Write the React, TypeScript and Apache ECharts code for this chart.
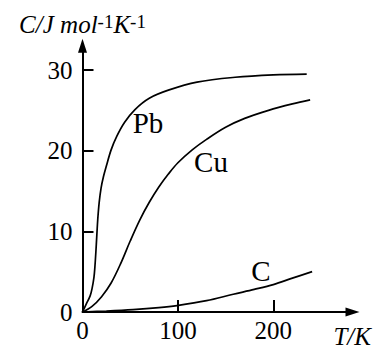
import React, { useEffect, useRef } from 'react';
import * as echarts from 'echarts';

// Heat capacity curves C (J mol^-1 K^-1) versus temperature T (K)
const pbT = [0, 4, 8, 10, 12, 13, 14, 15, 16, 17.5, 19.5, 22, 25, 30, 36, 44, 55, 70, 90, 120, 160, 200, 235];
const pbC = [0, 1.0, 2.0, 2.9, 4.3, 5.6, 7.4, 9.5, 11.5, 13.6, 15.4, 16.8, 18.1, 20.1, 21.8, 23.5, 25.1, 26.5, 27.5, 28.5, 29.1, 29.4, 29.5];

const cuT = [0, 10, 20, 30, 40, 50, 60, 70, 80, 90, 100, 115, 130, 150, 170, 195, 220, 238.6];
const cuC = [0, 0.7, 1.9, 3.6, 6.0, 8.8, 11.4, 13.6, 15.5, 17.1, 18.5, 20.1, 21.4, 22.9, 24.0, 25.0, 25.8, 26.3];

const cT = [0, 25, 53, 80, 99, 130, 158, 180, 200, 220, 240.7];
const cC = [0, 0.12, 0.3, 0.55, 0.8, 1.4, 2.2, 2.8, 3.4, 4.2, 5.0];

const xTickValues = [100, 200];
const xLabelValues = [0, 100, 200];
const yTickValues = [10, 20, 30];
const yLabelValues = [0, 10, 20, 30];

const seriesNames = ['Pb', 'Cu', 'C'];

const FONT = 'Liberation Serif';

export default function App() {
  const ref = useRef<HTMLDivElement>(null);
  useEffect(() => {
    const chart = echarts.init(ref.current as HTMLDivElement, null, { renderer: 'svg' });
    const zip = (t: number[], c: number[]) => t.map((v, i) => [v, c[i]]);
    const lineSeries = (name: string, t: number[], c: number[]) => ({
      type: 'line',
      name,
      data: zip(t, c),
      smooth: 0.35,
      showSymbol: false,
      symbol: 'none',
      silent: true,
      lineStyle: { color: '#000', width: 1.7 },
    });
    const labelStyle = (
      text: string,
      x: number,
      y: number,
      size: number,
      italic = false,
      align = 'center'
    ) => ({
      type: 'text',
      x,
      y,
      style: {
        text,
        fill: '#000',
        fontFamily: FONT,
        fontSize: size,
        fontStyle: italic ? 'italic' : 'normal',
        align,
        verticalAlign: 'middle',
      },
    });
    chart.setOption({
      animation: false,
      grid: { left: 82.5, right: 25.5, top: 45.8, bottom: 37 },
      xAxis: {
        type: 'value',
        min: 0,
        max: 283,
        interval: 100,
        axisLine: {
          show: true,
          symbol: ['none', 'triangle'],
          symbolSize: [9, 14],
          lineStyle: { color: '#000', width: 2 },
        },
        axisTick: {
          show: true,
          inside: true,
          length: 12,
          customValues: xTickValues,
          lineStyle: { color: '#000', width: 2 },
        },
        axisLabel: {
          customValues: xLabelValues,
          color: '#000',
          fontFamily: FONT,
          fontSize: 25,
          margin: 6,
        },
        splitLine: { show: false },
      },
      yAxis: {
        type: 'value',
        min: 0,
        max: 33,
        interval: 10,
        name: '{i|C/J mol}{s|-1}{i|K}{s|-1}',
        nameLocation: 'end',
        nameGap: 8,
        nameTextStyle: {
          align: 'center',
          rich: {
            i: { fontFamily: FONT, fontStyle: 'italic', fontSize: 25, color: '#000', lineHeight: 26 },
            s: { fontFamily: FONT, fontSize: 19, color: '#000', verticalAlign: 'top', lineHeight: 19 },
          },
        },
        axisLine: {
          show: true,
          symbol: ['none', 'triangle'],
          symbolSize: [9, 14],
          lineStyle: { color: '#000', width: 2 },
        },
        axisTick: {
          show: true,
          inside: true,
          length: 11,
          customValues: yTickValues,
          lineStyle: { color: '#000', width: 2 },
        },
        axisLabel: {
          customValues: yLabelValues,
          color: '#000',
          fontFamily: FONT,
          fontSize: 25,
          margin: 10,
        },
        splitLine: { show: false },
      },
      series: [
        lineSeries(seriesNames[0], pbT, pbC),
        lineSeries(seriesNames[1], cuT, cuC),
        lineSeries(seriesNames[2], cT, cC),
      ],
      graphic: [
        labelStyle(seriesNames[0], 148, 123, 29),
        labelStyle(seriesNames[1], 211, 162, 29),
        labelStyle(seriesNames[2], 261, 271, 29),
        labelStyle('T/K', 371, 336, 25, true, 'right'),
      ],
    });
    return () => chart.dispose();
  }, []);
  return (
    <div
      ref={ref}
      style={{ position: 'absolute', left: 0, top: 0, width: 378, height: 349, background: '#fff' }}
    />
  );
}
